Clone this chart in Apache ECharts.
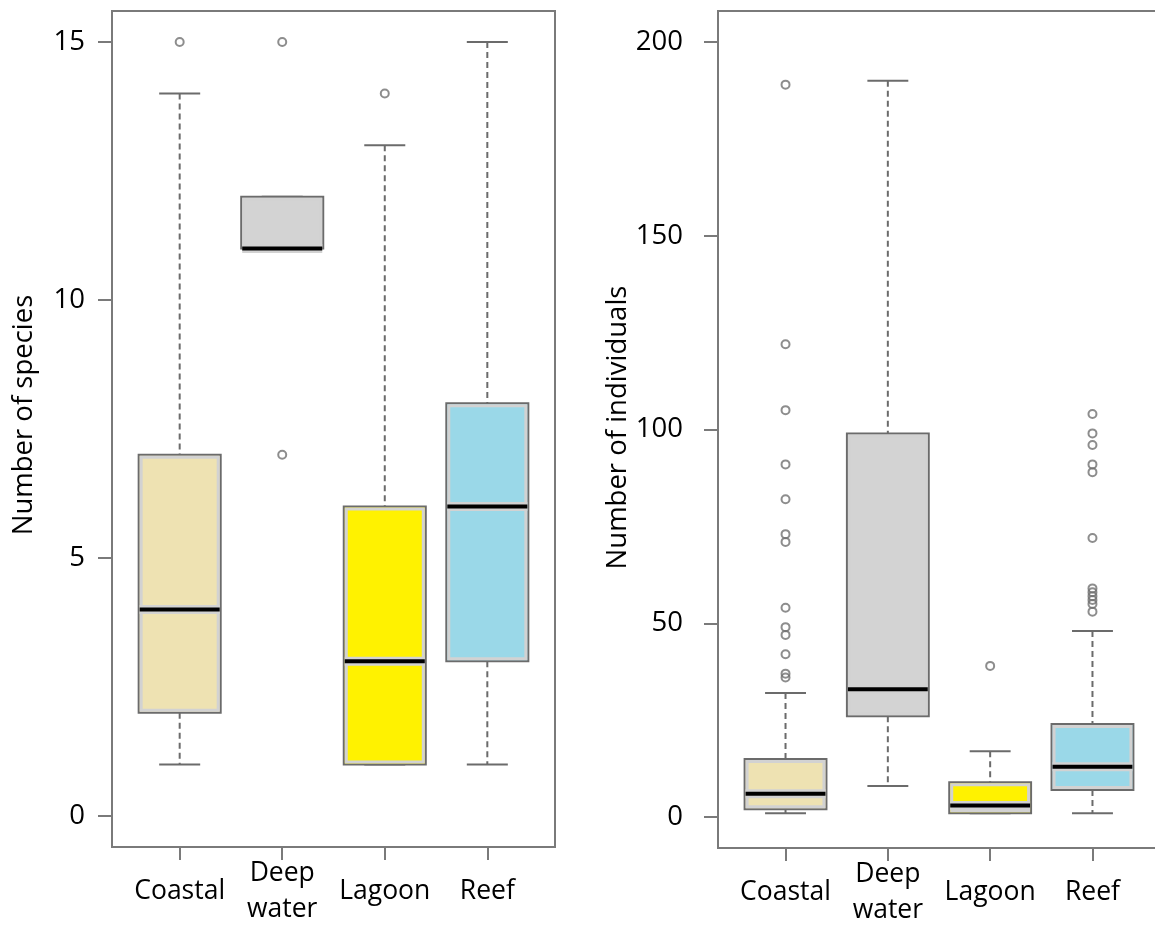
<!DOCTYPE html>
<html>
<head>
<meta charset="utf-8">
<title>Species and individuals by habitat</title>
<script src="https://cdn.jsdelivr.net/npm/echarts@6/dist/echarts.min.js"></script>
<style>
  html, body { margin: 0; padding: 0; background: #fff; }
  #chart { width: 1155px; height: 932px; }
</style>
</head>
<body>
<div id="chart"></div>
<script>
const habitats = ['Coastal', 'Deep\nwater', 'Lagoon', 'Reef'];
const boxColors = ['#eee2b2', '#d3d3d3', '#fff200', '#9ad8e8'];

// per habitat: [whisker low, Q1, median, Q3, whisker high]
const speciesStats = [
  [1, 2, 4, 7, 14],
  [11, 11, 11, 12, 12],
  [1, 1, 3, 6, 13],
  [1, 3, 6, 8, 15],
];
const speciesOutliers = [
  [15],
  [15, 7],
  [14],
  [],
];
const individualsStats = [
  [1, 2, 6, 15, 32],
  [8, 26, 33, 99, 190],
  [1, 1, 3, 9, 17],
  [1, 7, 13, 24, 48],
];
const individualsOutliers = [
  [189, 122, 105, 91, 82, 73, 71, 54, 49, 47, 42, 37, 36],
  [],
  [39],
  [104, 99, 96, 91, 89, 72, 59, 58, 57, 56, 55, 53],
];
const speciesTicks = [0, 5, 10, 15];
const individualsTicks = [0, 50, 100, 150, 200];
const habitatTicks = [1, 2, 3, 4];

const fontFamily = "'Open Sans', sans-serif";
const textColor = '#000';
const frameColor = '#7a7a7a';
const edgeColor = '#6b6b6b';

function renderBox(params, api) {
  const x = api.value(0);
  const y = [1, 2, 3, 4, 5].map(d => api.coord([x, api.value(d)])[1]);
  const [lo, q1, med, q3, hi] = y;
  const cx = api.coord([x, api.value(1)])[0];
  const boxW = api.size([0.8, 0])[0];
  const capW = api.size([0.4, 0])[0];
  const fill = boxColors[params.dataIndex];
  const dashed = {stroke: edgeColor, lineWidth: 2, lineDash: [6, 4]};
  const solid = {stroke: edgeColor, lineWidth: 2};
  return {
    type: 'group',
    children: [
      {type: 'line', shape: {x1: cx, y1: hi, x2: cx, y2: q3}, style: dashed},
      {type: 'line', shape: {x1: cx, y1: q1, x2: cx, y2: lo}, style: dashed},
      {type: 'line', shape: {x1: cx - capW / 2, y1: hi, x2: cx + capW / 2, y2: hi}, style: solid},
      {type: 'line', shape: {x1: cx - capW / 2, y1: lo, x2: cx + capW / 2, y2: lo}, style: solid},
      {type: 'rect', shape: {x: cx - boxW / 2, y: q3, width: boxW, height: q1 - q3}, style: {fill: fill, stroke: edgeColor, lineWidth: 2}},
      {type: 'rect', shape: {x: cx - boxW / 2 + 2.5, y: q3 + 2.5, width: boxW - 5, height: q1 - q3 - 5}, style: {fill: 'none', stroke: '#d2d2d2', lineWidth: 3}},
      {type: 'line', shape: {x1: cx - boxW / 2 + 1, y1: med, x2: cx + boxW / 2 - 1, y2: med}, style: {stroke: '#d2d2d2', lineWidth: 9}},
      {type: 'line', shape: {x1: cx - boxW / 2 + 1, y1: med, x2: cx + boxW / 2 - 1, y2: med}, style: {stroke: '#000', lineWidth: 4}},
    ]
  };
}

function xAxisFor(gridIndex) {
  return {
    type: 'value',
    gridIndex: gridIndex,
    min: 0.34,
    max: 4.66,
    axisLine: {show: false, onZero: false},
    splitLine: {show: false},
    axisTick: {show: true, customValues: habitatTicks, length: 13, lineStyle: {color: frameColor, width: 2}},
    axisLabel: {
      customValues: habitatTicks,
      formatter: v => habitats[Math.round(v) - 1],
      margin: 44,
      verticalAlign: 'middle',
      lineHeight: 36,
      fontSize: 26.5,
      color: textColor,
      fontFamily: fontFamily,
    },
  };
}

function yAxisFor(gridIndex, min, max, ticks, name, labelMargin, nameGap, namePadding) {
  return {
    type: 'value',
    gridIndex: gridIndex,
    min: min,
    max: max,
    axisLine: {show: false, onZero: false},
    splitLine: {show: false},
    axisTick: {show: true, customValues: ticks, length: 14, lineStyle: {color: frameColor, width: 2}},
    axisLabel: {customValues: ticks, margin: labelMargin, fontSize: 27.5, color: textColor, fontFamily: fontFamily},
    name: name,
    nameLocation: 'middle',
    nameGap: nameGap,
    nameTextStyle: {fontSize: 27.5, color: textColor, fontFamily: fontFamily, padding: namePadding},
  };
}

function outlierPoints(list) {
  const pts = [];
  list.forEach((vals, i) => vals.forEach(v => pts.push([i + 1, v])));
  return pts;
}

const chart = echarts.init(document.getElementById('chart'), null, {renderer: 'canvas'});

chart.setOption({
  backgroundColor: '#ffffff',
  animation: false,
  grid: [
    {left: 112, top: 11, width: 443, height: 836, show: true, borderColor: frameColor, borderWidth: 2, backgroundColor: 'transparent', outerBoundsMode: 'none'},
    {left: 718, top: 11, width: 442, height: 837, show: true, borderColor: frameColor, borderWidth: 2, backgroundColor: 'transparent', outerBoundsMode: 'none'},
  ],
  xAxis: [xAxisFor(0), xAxisFor(1)],
  yAxis: [
    yAxisFor(0, -0.6, 15.6, speciesTicks, 'Number of species', 27, 74, [0, 0, 0, 28]),
    yAxisFor(1, -8, 208, individualsTicks, 'Number of individuals', 35, 79, [0, 0, 0, 4]),
  ],
  series: [
    {
      type: 'custom',
      xAxisIndex: 0,
      yAxisIndex: 0,
      renderItem: renderBox,
      data: speciesStats.map((s, i) => [i + 1, ...s]),
    },
    {
      type: 'scatter',
      xAxisIndex: 0,
      yAxisIndex: 0,
      symbol: 'circle',
      symbolSize: 8,
      itemStyle: {color: 'rgba(255,255,255,0)', borderColor: '#707070', borderWidth: 2},
      data: outlierPoints(speciesOutliers),
    },
    {
      type: 'custom',
      xAxisIndex: 1,
      yAxisIndex: 1,
      renderItem: renderBox,
      data: individualsStats.map((s, i) => [i + 1, ...s]),
    },
    {
      type: 'scatter',
      xAxisIndex: 1,
      yAxisIndex: 1,
      symbol: 'circle',
      symbolSize: 8,
      itemStyle: {color: 'rgba(255,255,255,0)', borderColor: '#707070', borderWidth: 2},
      data: outlierPoints(individualsOutliers),
    },
  ],
});
</script>
</body>
</html>
